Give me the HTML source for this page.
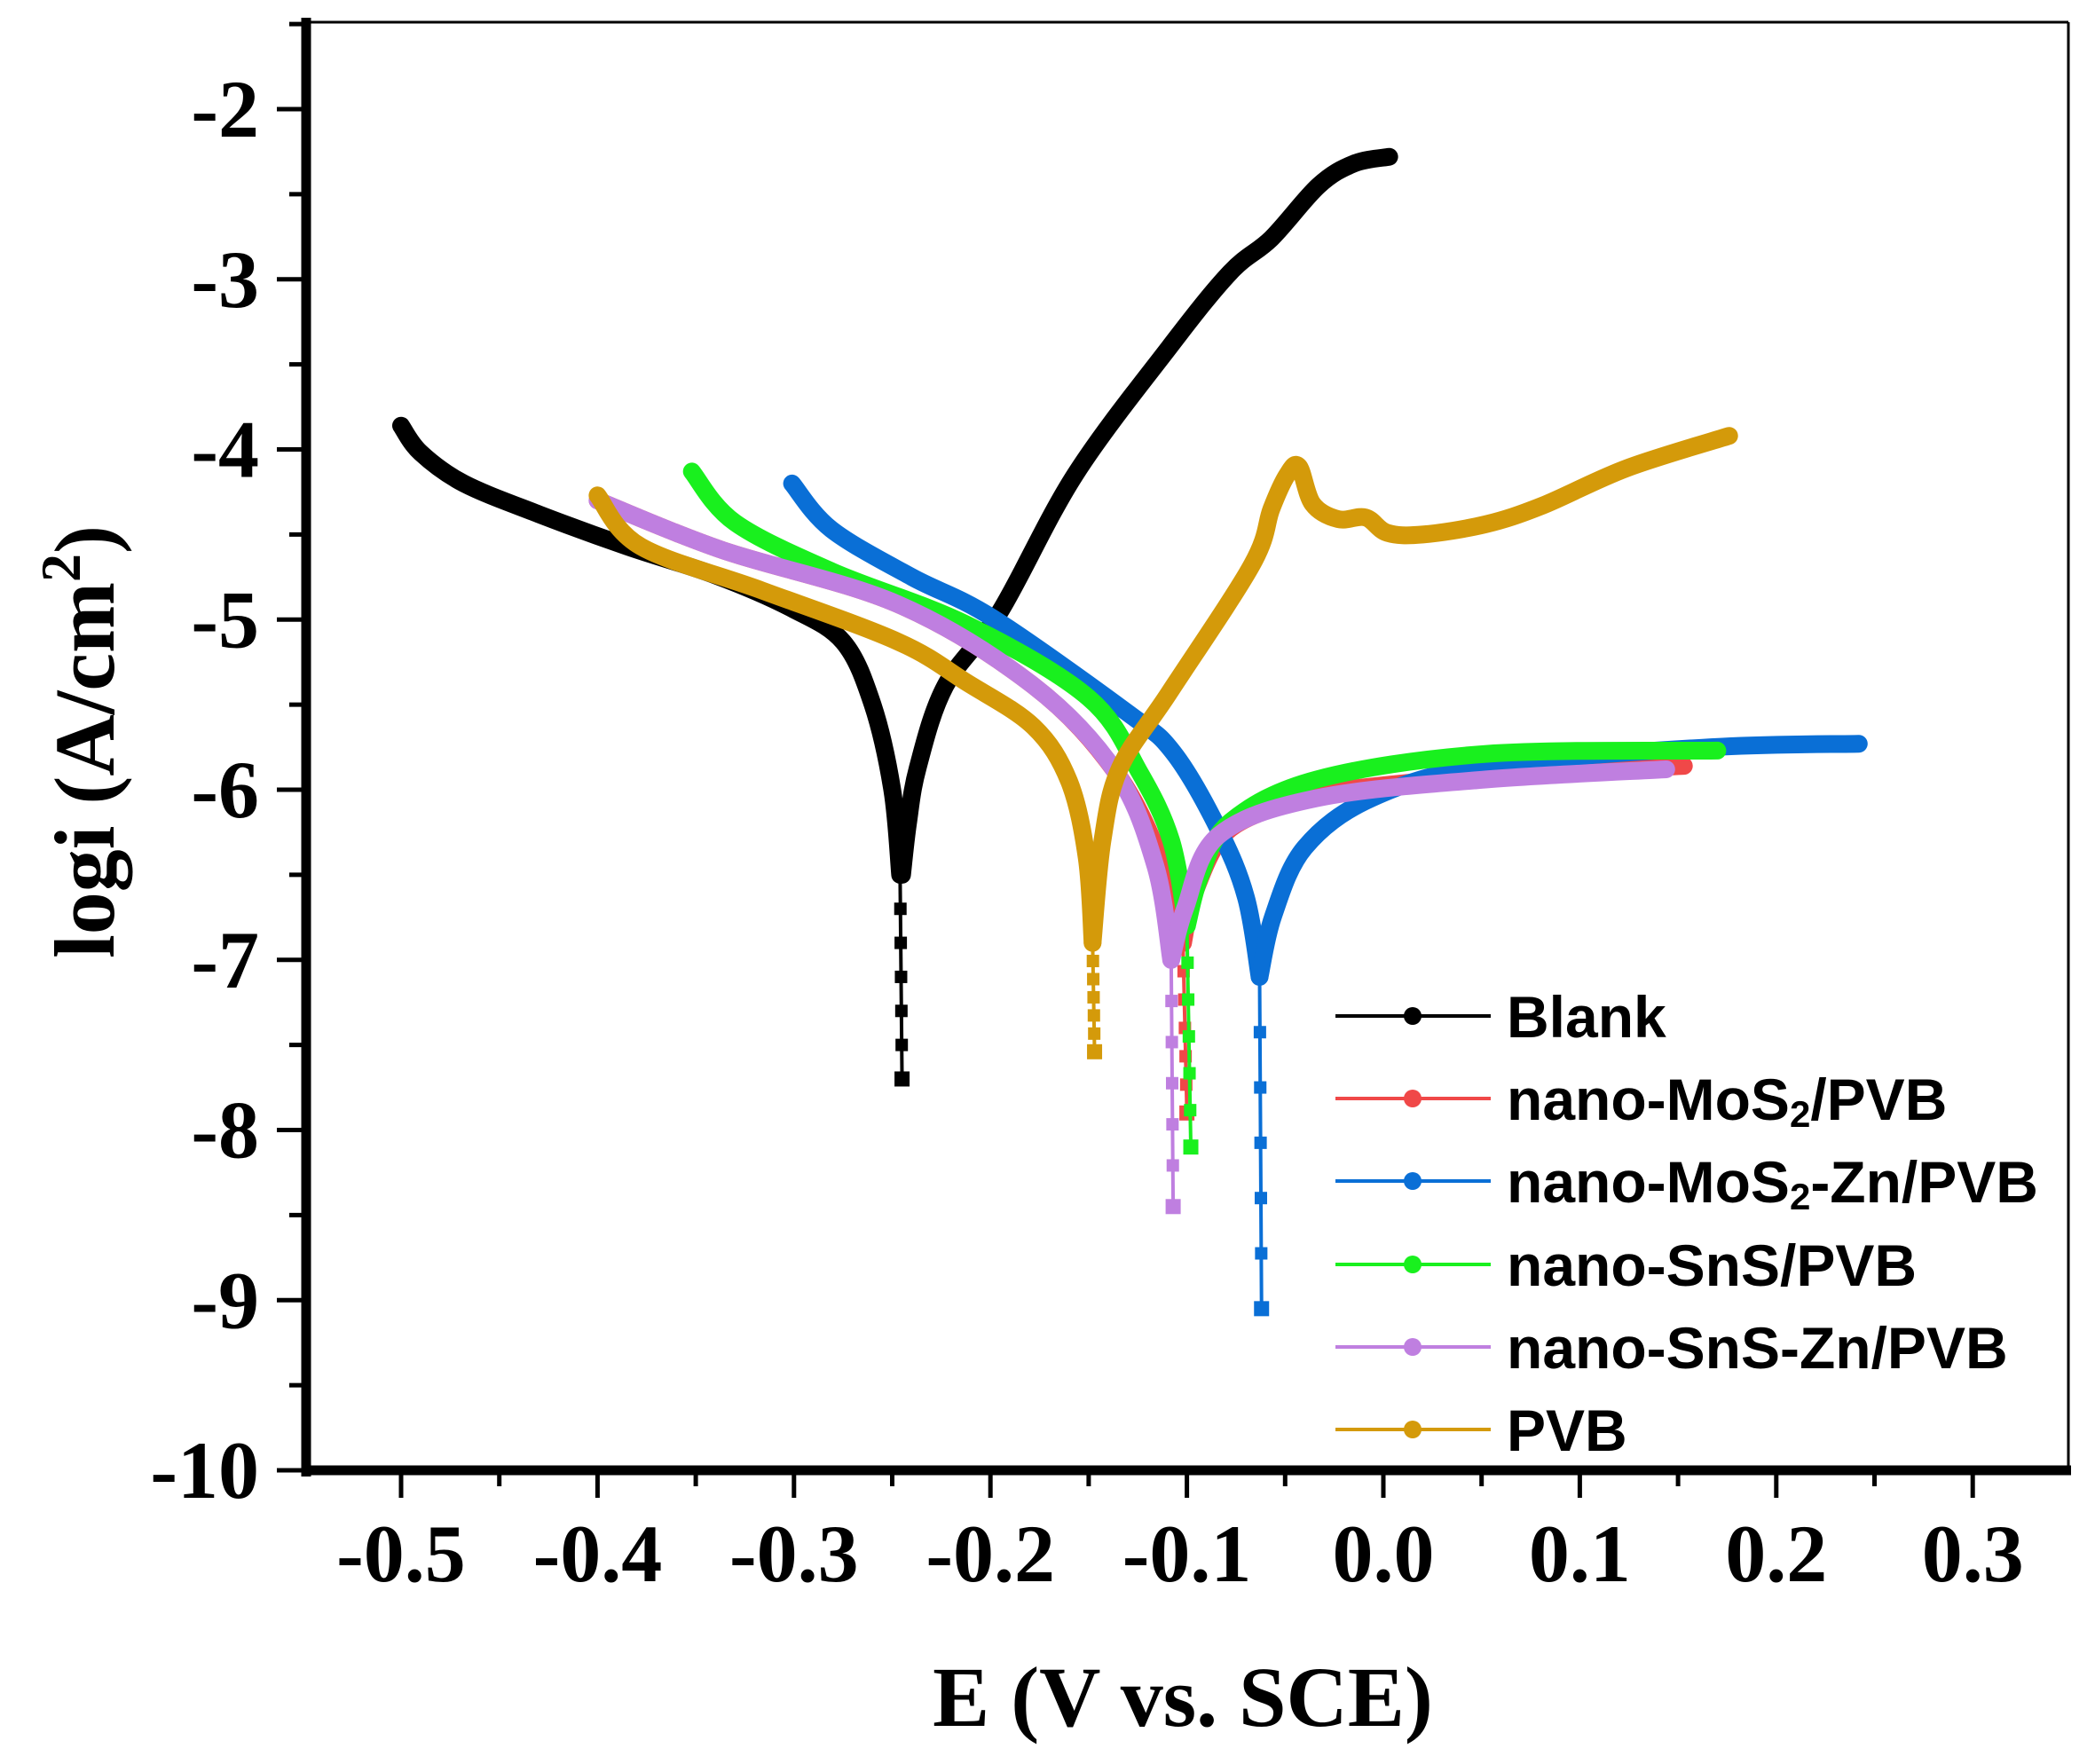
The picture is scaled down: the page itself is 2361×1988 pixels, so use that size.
<!DOCTYPE html>
<html><head><meta charset="utf-8"><style>
html,body{margin:0;padding:0;background:#fff;}
svg{display:block;}
.t{font-family:"Liberation Serif",serif;font-weight:bold;}
.l{font-family:"Liberation Sans",sans-serif;font-weight:bold;font-size:66px;}
</style></head><body>
<svg id="s" width="2361" height="1988" viewBox="0 0 2361 1988" xmlns="http://www.w3.org/2000/svg">
<rect width="2361" height="1988" fill="#fff"/>
<g id="ax"></g>
<g id="data" fill="none" stroke-linejoin="round" stroke-linecap="round"></g>
<g class="t" font-size="92" text-anchor="end" id="yl"></g>
<g class="t" font-size="92" text-anchor="middle" id="xl"></g>
<text class="t" font-size="96" x="1333" y="1945" text-anchor="middle">E (V vs. SCE)</text>
<text class="t" font-size="96" transform="translate(128,836) rotate(-90)" text-anchor="middle">logi (A/cm<tspan dy="-38" font-size="64">2</tspan><tspan dy="38">)</tspan></text>
<g id="leg"></g>
</svg>
<script>
var NS="http://www.w3.org/2000/svg";
function X(v){return 452+(v+0.5)*2214;}
function Y(l){return 123+(-2-l)*191.75;}
function el(p,t,a,txt){var e=document.createElementNS(NS,t);for(var k in a)e.setAttribute(k,a[k]);if(txt!==undefined)e.textContent=txt;p.appendChild(e);return e;}
var ax=document.getElementById('ax');
el(ax,'line',{x1:345,y1:25,x2:2331,y2:25,stroke:'#000','stroke-width':3});
el(ax,'line',{x1:2331,y1:25,x2:2331,y2:1658,stroke:'#000','stroke-width':3});
el(ax,'line',{x1:345,y1:20,x2:345,y2:1664,stroke:'#000','stroke-width':11});
el(ax,'line',{x1:340,y1:1657,x2:2334,y2:1657,stroke:'#000','stroke-width':11});
var yl=document.getElementById('yl'),xl=document.getElementById('xl');
for(var i=-10;i<=-2;i++){var y=Y(i);el(ax,'line',{x1:312,y1:y,x2:345,y2:y,stroke:'#000','stroke-width':5});
 el(yl,'text',{x:292,y:y+31},String(i));
 if(i<-2){var y2=Y(i+0.5);el(ax,'line',{x1:326,y1:y2,x2:345,y2:y2,stroke:'#000','stroke-width':5});}}
el(ax,'line',{x1:326,y1:Y(-1.5),x2:345,y2:Y(-1.5),stroke:'#000','stroke-width':5});
var labs=['-0.5','-0.4','-0.3','-0.2','-0.1','0.0','0.1','0.2','0.3'];
for(var j=0;j<9;j++){var v=-0.5+j*0.1,x=X(v);el(ax,'line',{x1:x,y1:1657,x2:x,y2:1688,stroke:'#000','stroke-width':5});
 el(xl,'text',{x:x,y:1782},labs[j]);}
for(var j=-1;j<9;j++){var x=X(-0.45+j*0.1);if(x>350&&x<2331)el(ax,'line',{x1:x,y1:1657,x2:x,y2:1675,stroke:'#000','stroke-width':5});}
var dg=document.getElementById('data');
function pl(pts,col,w){
 var P=pts.map(function(p){return [X(p[0]),Y(p[1])];});
 var d='M'+P[0][0].toFixed(1)+' '+P[0][1].toFixed(1);
 for(var i=0;i<P.length-1;i++){
  var p0=P[i>0?i-1:i],p1=P[i],p2=P[i+1],p3=P[i+2<P.length?i+2:i+1];
  var c1=[p1[0]+(p2[0]-p0[0])/6,p1[1]+(p2[1]-p0[1])/6],c2=[p2[0]-(p3[0]-p1[0])/6,p2[1]-(p3[1]-p1[1])/6];
  d+='C'+c1[0].toFixed(1)+' '+c1[1].toFixed(1)+' '+c2[0].toFixed(1)+' '+c2[1].toFixed(1)+' '+p2[0].toFixed(1)+' '+p2[1].toFixed(1);
 }
 el(dg,'path',{d:d,stroke:col,'stroke-width':w});}
function ln(a,b,col,w){el(dg,'line',{x1:X(a[0]),y1:Y(a[1]),x2:X(b[0]),y2:Y(b[1]),stroke:col,'stroke-width':w});}
function mk(v,l,col,s){el(dg,'rect',{x:X(v)-s/2,y:Y(l)-s/2,width:s,height:s,fill:col,stroke:'none'});}
var S=[
{c:'#000',cat:[[-0.5,-3.86],[-0.49,-4.02],[-0.468,-4.2],[-0.43,-4.38],[-0.385,-4.57],[-0.34,-4.74],[-0.302,-4.93],[-0.275,-5.13],[-0.26,-5.5],[-0.25,-6.0],[-0.246,-6.5]],tip:[-0.245,-7.7],an:[[-0.245,-6.5],[-0.242,-6.2],[-0.237,-5.87],[-0.223,-5.39],[-0.195,-4.95],[-0.157,-4.15],[-0.109,-3.40],[-0.078,-2.96],[-0.057,-2.76],[-0.033,-2.45],[-0.015,-2.32],[0.003,-2.28]]},
{c:'#f04848',cat:[[-0.40,-4.3],[-0.337,-4.59],[-0.247,-4.91],[-0.178,-5.39],[-0.136,-5.9],[-0.112,-6.45],[-0.102,-6.9]],tip:[-0.100,-7.9],an:[[-0.102,-6.9],[-0.096,-6.6],[-0.08,-6.25],[-0.05,-6.08],[-0.034,-6.02],[0.052,-5.92],[0.153,-5.86]]},
{c:'#0a6fd6',cat:[[-0.301,-4.20],[-0.281,-4.47],[-0.24,-4.75],[-0.199,-4.99],[-0.13,-5.55],[-0.107,-5.78],[-0.084,-6.23],[-0.07,-6.63],[-0.063,-7.1]],tip:[-0.062,-9.05],an:[[-0.063,-7.1],[-0.056,-6.74],[-0.040,-6.34],[-0.006,-6.05],[0.052,-5.86],[0.167,-5.75],[0.242,-5.73]]},
{c:'#19f01e',cat:[[-0.352,-4.13],[-0.330,-4.43],[-0.28,-4.72],[-0.212,-5.03],[-0.15,-5.46],[-0.124,-5.9],[-0.108,-6.3],[-0.1,-6.8]],tip:[-0.098,-8.1],an:[[-0.1,-6.8],[-0.093,-6.5],[-0.078,-6.19],[-0.034,-5.94],[0.052,-5.79],[0.17,-5.77]]},
{c:'#bf7fe0',cat:[[-0.40,-4.3],[-0.337,-4.59],[-0.247,-4.91],[-0.178,-5.39],[-0.136,-5.9],[-0.116,-6.45],[-0.108,-7.0]],tip:[-0.107,-8.45],an:[[-0.108,-7.0],[-0.101,-6.7],[-0.084,-6.27],[-0.034,-6.05],[0.052,-5.94],[0.144,-5.88]]},
{c:'#d49a0a',cat:[[-0.40,-4.27],[-0.378,-4.57],[-0.316,-4.83],[-0.247,-5.13],[-0.212,-5.37],[-0.178,-5.63],[-0.16,-5.95],[-0.151,-6.4],[-0.148,-6.9]],tip:[-0.147,-7.54],an:[[-0.148,-6.9],[-0.143,-6.3],[-0.134,-5.87],[-0.109,-5.43],[-0.067,-4.68],[-0.057,-4.35],[-0.049,-4.15],[-0.043,-4.10],[-0.036,-4.32],[-0.023,-4.41],[-0.009,-4.40],[0.002,-4.49],[0.02,-4.5],[0.052,-4.44],[0.081,-4.33],[0.124,-4.11],[0.176,-3.92]]}
];
S.forEach(function(s){
 var a=s.cat[s.cat.length-1];
 ln(a,s.tip,s.c,4);
 for(var k=1;k<=6;k++){var ll=a[1]+(s.tip[1]-a[1])*k/6;mk(s.tip[0]+(a[0]-s.tip[0])*(1-k/6),ll,s.c,k==6?17:14);}
 pl(s.cat,s.c,20);pl(s.an,s.c,20);
});
var lg=document.getElementById('leg');
var names=['Blank','nano-MoS2/PVB','nano-MoS2-Zn/PVB','nano-SnS/PVB','nano-SnS-Zn/PVB','PVB'];
var ys=[1145,1238,1331,1425,1518,1611];
S.forEach(function(s,i){var y=ys[i];
 el(lg,'line',{x1:1505,y1:y,x2:1680,y2:y,stroke:s.c,'stroke-width':4});
 el(lg,'circle',{cx:1592,cy:y,r:10,fill:s.c});
 var t=el(lg,'text',{x:1698,y:y+24,'class':'l'});
 var n=names[i];
 if(n.indexOf('MoS2')<0){t.textContent=n;}else{
  var parts=n.split('MoS2');
  el(t,'tspan',{},parts[0]+'MoS');el(t,'tspan',{'font-size':42,dy:8},'2');el(t,'tspan',{dy:-8},parts[1]);}
});
</script>
</body></html>
